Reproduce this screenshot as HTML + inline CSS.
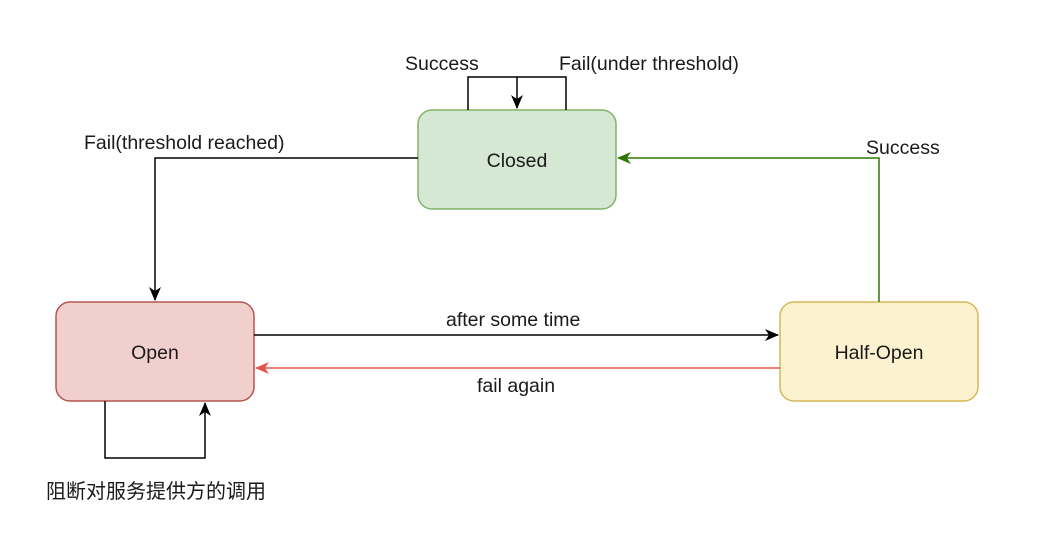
<!DOCTYPE html>
<html><head><style>
body{margin:0;background:#fff;width:1038px;height:534px;overflow:hidden}
svg text{font-family:"Liberation Sans","Noto Sans CJK SC",sans-serif;font-size:19.5px;fill:#1a1a1a}
</style></head><body>
<svg width="1038" height="534" xmlns="http://www.w3.org/2000/svg">
<defs>
<marker id="ak" markerWidth="14" markerHeight="12" refX="13" refY="6" orient="auto" markerUnits="userSpaceOnUse"><path d="M0,0 L14,6 L0,12 L4,6z" fill="#000"/></marker>
<marker id="ag" markerWidth="14" markerHeight="12" refX="13" refY="6" orient="auto" markerUnits="userSpaceOnUse"><path d="M0,0 L14,6 L0,12 L4,6z" fill="#2d7600"/></marker>
<marker id="ar" markerWidth="14" markerHeight="12" refX="13" refY="6" orient="auto" markerUnits="userSpaceOnUse"><path d="M0,0 L14,6 L0,12 L4,6z" fill="#e0584a"/></marker>
</defs>
<rect x="418" y="110" width="198" height="99" rx="14" fill="#d5e8d4" stroke="#82b366" stroke-width="1.5"/>
<rect x="56" y="302" width="198" height="99" rx="14" fill="#f0cfcd" stroke="#b85450" stroke-width="1.5"/>
<rect x="780" y="302" width="198" height="99" rx="14" fill="#fdf2cf" stroke="#d6b656" stroke-width="1.5"/>
<text x="517" y="167" text-anchor="middle">Closed</text>
<text x="155" y="359" text-anchor="middle">Open</text>
<text x="879" y="359" text-anchor="middle">Half-Open</text>
<g fill="none" stroke="#000" stroke-width="1.5">
<path d="M468,110 V77 H566 V110"/>
<path d="M517,77 V108" marker-end="url(#ak)"/>
<path d="M418,158 H155 V300" marker-end="url(#ak)"/>
<path d="M254,335 H778" marker-end="url(#ak)"/>
<path d="M105,401 V458 H205 V403" marker-end="url(#ak)"/>
<path d="M879,302 V158 H618" stroke="#2d7600" marker-end="url(#ag)"/>
<path d="M780,368 H256" stroke="#e0584a" marker-end="url(#ar)"/>
</g>
<text x="405" y="70">Success</text>
<text x="559" y="70">Fail(under threshold)</text>
<text x="84" y="149">Fail(threshold reached)</text>
<text x="866" y="154">Success</text>
<text x="446" y="326">after some time</text>
<text x="477" y="392">fail again</text>
<text x="46" y="498" style="font-size:20px">阻断对服务提供方的调用</text>
</svg>
</body></html>
